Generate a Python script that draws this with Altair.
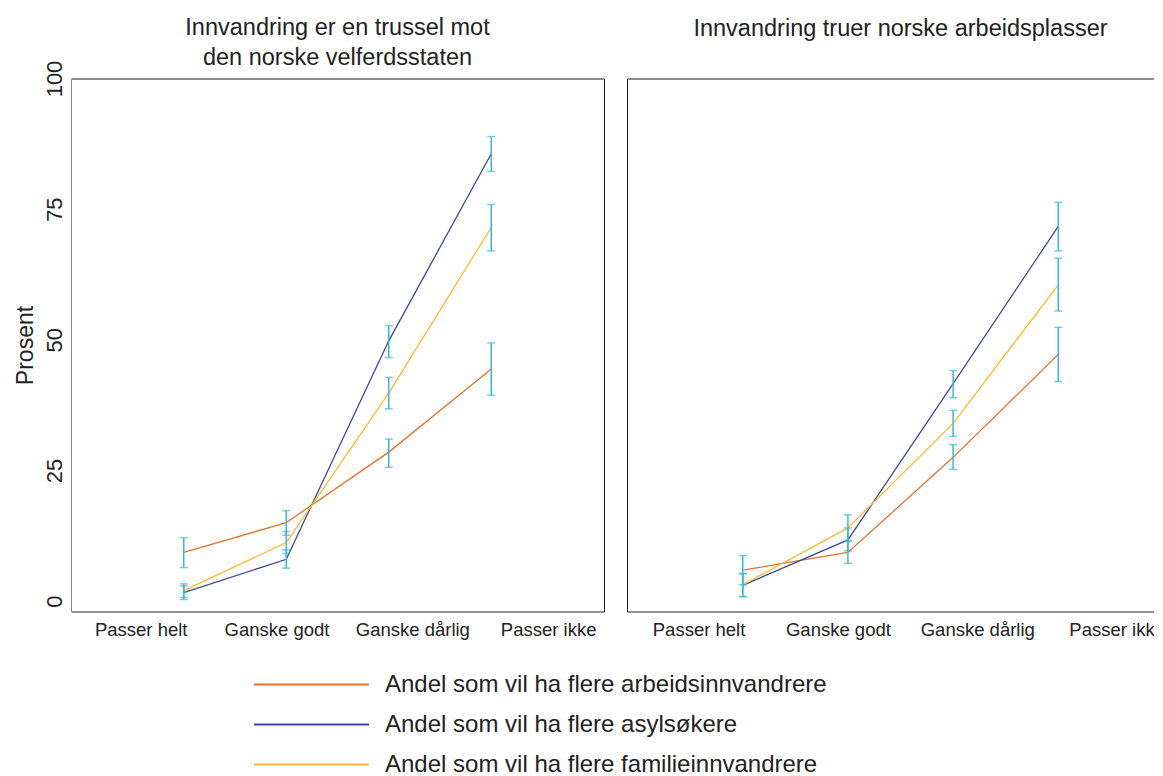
import altair as alt
import pandas as pd

FONT = "Liberation Sans"

categories = ["Passer helt", "Ganske godt", "Ganske dårlig", "Passer ikke"]
cat_pos = [1, 2, 3, 4]
label_pos = [0.58, 1.905, 3.23, 4.555]

series = [
    "Andel som vil ha flere arbeidsinnvandrere",
    "Andel som vil ha flere asylsøkere",
    "Andel som vil ha flere familieinnvandrere",
]
colors = ["#E8702A", "#3C4A9A", "#FBBA2C"]
err_color = "#35BAD6"

panel_titles = [
    ["Innvandring er en trussel mot", "den norske velferdsstaten"],
    "Innvandring truer norske arbeidsplasser",
]

# Panel 1: velferdsstaten
velferd_arbeid = [9.3, 15.0, 28.5, 44.4]
velferd_arbeid_lo = [6.4, 12.6, 25.6, 39.4]
velferd_arbeid_hi = [12.1, 17.3, 31.0, 49.4]
velferd_asyl = [1.6, 8.0, 49.8, 85.6]
velferd_asyl_lo = [0.3, 6.3, 46.6, 82.2]
velferd_asyl_hi = [2.9, 9.8, 52.7, 88.9]
velferd_familie = [2.0, 11.2, 39.8, 71.5]
velferd_familie_lo = [0.7, 9.1, 36.8, 67.0]
velferd_familie_hi = [3.3, 13.3, 42.8, 75.9]

# Panel 2: arbeidsplasser
arbeid_arbeid = [5.9, 9.3, 27.5, 47.2]
arbeid_arbeid_lo = [3.1, 7.2, 25.2, 42.0]
arbeid_arbeid_hi = [8.7, 11.5, 29.9, 52.4]
arbeid_asyl = [3.0, 11.7, 41.6, 71.7]
arbeid_asyl_lo = [0.8, 9.6, 38.9, 67.0]
arbeid_asyl_hi = [5.2, 14.0, 44.1, 76.3]
arbeid_familie = [3.1, 14.0, 34.0, 60.5]
arbeid_familie_lo = [0.9, 11.5, 31.5, 55.5]
arbeid_familie_hi = [5.3, 16.5, 36.5, 65.6]


def build(vals):
    rows = []
    for s, (v, lo, hi) in zip(series, vals):
        for c, p, a, b, d in zip(categories, cat_pos, v, lo, hi):
            rows.append({"series": s, "cat": c, "pos": p, "value": a, "lo": b, "hi": d})
    return pd.DataFrame(rows)


df1 = build([
    (velferd_arbeid, velferd_arbeid_lo, velferd_arbeid_hi),
    (velferd_asyl, velferd_asyl_lo, velferd_asyl_hi),
    (velferd_familie, velferd_familie_lo, velferd_familie_hi),
])
df2 = build([
    (arbeid_arbeid, arbeid_arbeid_lo, arbeid_arbeid_hi),
    (arbeid_asyl, arbeid_asyl_lo, arbeid_asyl_hi),
    (arbeid_familie, arbeid_familie_lo, arbeid_familie_hi),
])

# label expression mapping tick values to category names
mids = [(label_pos[i] + label_pos[i + 1]) / 2 for i in range(len(label_pos) - 1)]
expr = f"'{categories[-1]}'"
for m, c in reversed(list(zip(mids, categories[:-1]))):
    expr = f"datum.value < {m} ? '{c}' : ({expr})"


def panel(df, title, width, show_y, title_offset):
    xscale = alt.Scale(domain=[-0.1, 5.1], nice=False, zero=False)
    yscale = alt.Scale(domain=[-2, 100], nice=False, zero=False)
    xaxis = alt.Axis(values=label_pos, labelExpr=expr, title=None, ticks=False,
                     domain=False, grid=False, labelFontSize=18.5, labelPadding=8.6,
                     labelFlush=False, labelOverlap=False, labelColor="#222", labelFont=FONT)
    if show_y:
        yaxis = alt.Axis(values=[0, 25, 50, 75, 100], title="Prosent", ticks=False, grid=False,
                         domain=True, domainColor="#888", labelAngle=270, labelAlign="center",
                         labelBaseline="bottom", labelFontSize=22, labelPadding=5,
                         labelColor="#222", labelFont=FONT, titleFont=FONT,
                         titleFontSize=23, titleFontWeight="normal", titleColor="#222",
                         titlePadding=6)
    else:
        yaxis = None
    base = alt.Chart(df)
    lines = base.mark_line(strokeWidth=1.3).encode(
        x=alt.X("pos:Q", scale=xscale, axis=xaxis),
        y=alt.Y("value:Q", scale=yscale, axis=yaxis),
        color=alt.Color("series:N", scale=alt.Scale(domain=series, range=colors),
                        legend=alt.Legend(title=None, orient="none", direction="vertical",
                                          legendX=228.5, legendY=594,
                                          symbolType="M-10,0H10", symbolSize=132.25,
                                          symbolStrokeWidth=2, labelFontSize=24,
                                          labelFont=FONT, labelColor="#222", labelLimit=0,
                                          labelOffset=61.5, rowPadding=16, padding=0)),
    )
    rules = base.mark_rule(color=err_color, strokeWidth=1.5).encode(
        x=alt.X("pos:Q", scale=xscale), y=alt.Y("lo:Q", scale=yscale), y2="hi:Q")
    tick_lo = base.mark_tick(color=err_color, orient="horizontal", size=8, thickness=1.5).encode(
        x=alt.X("pos:Q", scale=xscale), y=alt.Y("lo:Q", scale=yscale))
    tick_hi = base.mark_tick(color=err_color, orient="horizontal", size=8, thickness=1.5).encode(
        x=alt.X("pos:Q", scale=xscale), y=alt.Y("hi:Q", scale=yscale))
    return alt.layer(lines, rules, tick_lo, tick_hi).properties(
        width=width, height=533,
        title=alt.TitleParams(title, fontSize=23.5, fontWeight="normal", font=FONT,
                              color="#222", anchor="middle", lineHeight=30,
                              offset=title_offset),
    )


chart = alt.hconcat(
    panel(df1, panel_titles[0], 533, True, -9.5),
    panel(df2, panel_titles[1], 547, False, 38.5),
    spacing=21,
).resolve_scale(color="shared").configure_view(
    stroke="#222", strokeWidth=1
).properties(padding={"left": 5, "top": 7.5, "right": -21.5, "bottom": 0})

chart.save("out.html", embed_options={"renderer": "svg", "actions": False})
